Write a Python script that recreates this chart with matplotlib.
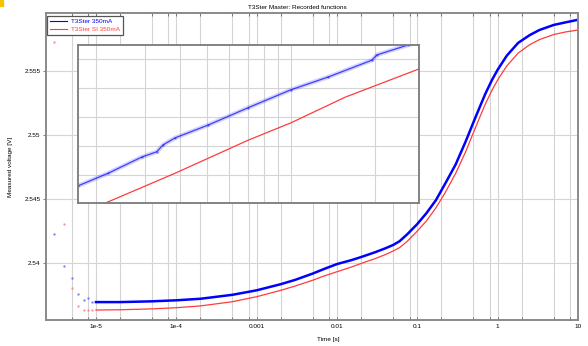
import numpy as np
import matplotlib
matplotlib.use("Agg")
import matplotlib.pyplot as plt
from matplotlib.ticker import LogLocator, NullFormatter, FixedLocator, FixedFormatter
from matplotlib.patches import Rectangle

plt.rcParams['font.family'] = ['Liberation Sans', 'DejaVu Sans']

# main curves
# sparse early samples
blue_early_t = [3.0e-6, 4.0e-6, 5.0e-6, 6.0e-6, 7.1e-6, 8.0e-6, 9.0e-6]
blue_early_v = [2.54227, 2.53977, 2.53883, 2.53758, 2.53711, 2.53727, 2.53695]
red_early_t = [3.0e-6, 4.0e-6, 5.0e-6, 6.0e-6, 7.1e-6, 8.0e-6, 9.0e-6]
red_early_v = [2.55727, 2.54305, 2.53805, 2.53664, 2.53633, 2.53633, 2.53633]

blue_t = [1e-5, 2e-5, 5e-5, 1e-4, 2e-4, 5e-4, 1e-3, 2e-3, 3e-3, 5e-3, 7e-3,
          0.01, 0.015, 0.02, 0.03, 0.04, 0.05, 0.06, 0.075, 0.1, 0.13, 0.17,
          0.22, 0.3, 0.4, 0.5, 0.6, 0.7, 0.85, 1.0, 1.3, 1.8, 2.5, 3.3, 5, 7, 10]
blue_v = [2.53695, 2.53695, 2.53701, 2.53709, 2.53721, 2.53752, 2.53787,
          2.53835, 2.53868, 2.53918, 2.53955, 2.53992, 2.54022, 2.54047,
          2.54085, 2.54115, 2.54141, 2.54170, 2.54225, 2.54305, 2.54390,
          2.54490, 2.54615, 2.54770, 2.54950, 2.55100, 2.55220, 2.55320,
          2.55430, 2.55510, 2.55620, 2.55720, 2.55780, 2.55820, 2.55860,
          2.55880, 2.55900]

red_t = [1e-5, 2e-5, 5e-5, 1e-4, 2e-4, 5e-4, 1e-3, 2e-3, 3e-3, 5e-3, 7e-3,
         0.01, 0.015, 0.02, 0.03, 0.04, 0.05, 0.06, 0.075, 0.1, 0.13, 0.17,
         0.22, 0.3, 0.4, 0.5, 0.6, 0.7, 0.85, 1.0, 1.3, 1.8, 2.5, 3.3, 5, 7, 10]
red_v = [2.53633, 2.53635, 2.53642, 2.53651, 2.53665, 2.53698, 2.53737,
         2.53787, 2.53820, 2.53866, 2.53900, 2.53932, 2.53968, 2.53997,
         2.54035, 2.54066, 2.54094, 2.54120, 2.54170, 2.54250, 2.54330,
         2.54430, 2.54545, 2.54700, 2.54870, 2.55020, 2.55140, 2.55240,
         2.55350, 2.55430, 2.55540, 2.55640, 2.55705, 2.55745, 2.55785,
         2.55805, 2.55820]

# inset (zoomed region)
ins_blue_t = [1.72e-3, 2.21e-3, 2.92e-3, 3.3e-3, 3.48e-3, 3.84e-3, 5.04e-3,
              7.02e-3, 0.01, 0.0136, 0.0195, 0.0203, 0.0262, 0.0288]
ins_blue_v = [2.54931, 2.54953, 2.54981, 2.54990, 2.55002, 2.55014, 2.55036,
              2.55066, 2.55097, 2.55119, 2.55148, 2.55157, 2.55174, 2.55180]
ins_red_t = [2.17e-3, 3.84e-3, 7.02e-3, 0.01, 0.0156, 0.0288]
ins_red_v = [2.54902, 2.54953, 2.5501, 2.5504, 2.55084, 2.55133]

xticks = [1e-5, 1e-4, 1e-3, 1e-2, 0.1, 1, 10]
xticklabels = ["1e-5", "1e-4", "0.001", "0.01", "0.1", "1", "10"]
yticks = [2.54, 2.545, 2.55, 2.555]
yticklabels = ["2.54", "2.545", "2.55", "2.555"]
ins_yticks = [2.5495, 2.55, 2.5505, 2.551, 2.5515]

BLUE = "#0000ff"
RED = "#ff3b3b"
GRID = "#d4d4d4"
FS = 4.6

fig = plt.figure(figsize=(5.88, 3.46), dpi=100)
fig.patches.append(Rectangle((0, 0.982), 0.005, 0.018, transform=fig.transFigure,
                             color="#f5c400", zorder=10))

ax = fig.add_axes([0.0782, 0.0751, 0.9048, 0.8873])
ax.set_xscale("log")
ax.set_xlim(2.39e-6, 10)
ax.set_ylim(2.53555, 2.55953)

ax.plot(blue_early_t, blue_early_v, ".", color="#6a6aff", ms=1.6, alpha=0.7)
ax.plot(red_early_t, red_early_v, ".", color="#ff8080", ms=1.6, alpha=0.7)
ax.plot(blue_t, blue_v, "-", color=BLUE, lw=1.8, label="T3Ster 350mA",
        solid_joinstyle="round")
ax.plot(red_t, red_v, "-", color=RED, lw=0.9, label="T3Ster SI 350mA",
        solid_joinstyle="round")

ax.xaxis.set_major_locator(FixedLocator(xticks))
ax.xaxis.set_major_formatter(FixedFormatter(xticklabels))
ax.xaxis.set_minor_locator(LogLocator(base=10, subs=[2, 5, 8], numticks=20))
ax.xaxis.set_minor_formatter(NullFormatter())
ax.set_yticks(yticks)
ax.set_yticklabels(yticklabels)
ax.grid(True, which="both", axis="x", color=GRID, lw=0.8)
ax.grid(True, which="major", axis="y", color=GRID, lw=0.8)
ax.set_axisbelow(True)

ax.tick_params(axis="x", which="both", direction="in", top=True, length=2.5,
               width=0.6, color="#666", labelsize=FS, pad=3)
ax.tick_params(axis="y", which="both", direction="out", length=2.5, width=0.6,
               color="#666", labelsize=FS, pad=1.5)
sec = ax.secondary_yaxis("right")
sec.set_yticks(yticks)
sec.tick_params(direction="in", length=2.5, width=0.6, color="#666", labelright=False)
sec.spines["right"].set_visible(False)

for s in ax.spines.values():
    s.set_color("#8a8a8a")
    s.set_linewidth(1.4)

ax.set_xlabel("Time [s]", fontsize=FS, labelpad=4)
ax.xaxis.set_label_coords(0.53, -0.055)
ax.set_ylabel("Measured voltage [V]", fontsize=FS, labelpad=8)
fig.text(0.505, 0.986, "T3Ster Master: Recorded functions", fontsize=FS,
         ha="center", va="top")

leg = ax.legend(loc="upper left", bbox_to_anchor=(0.002, 0.99), borderaxespad=0,
                fontsize=FS, fancybox=False, framealpha=1, handlelength=2.6,
                handletextpad=0.7, borderpad=0.45, labelspacing=0.3)
leg.get_frame().set_edgecolor("#555555")
leg.get_frame().set_linewidth(0.9)
for txt, c in zip(leg.get_texts(), [BLUE, RED]):
    txt.set_color(c)
for h in leg.get_lines():
    h.set_linewidth(0.8)

# inset
ins = fig.add_axes([0.1327, 0.4133, 0.58, 0.4566])
ins.set_xscale("log")
ins.set_xlim(1.724e-3, 2.876e-2)
ins.set_ylim(2.549017, 2.551741)
ins.plot(ins_blue_t, ins_blue_v, "-", color="#7070ff", lw=3.2, alpha=0.3)
ins.plot(ins_blue_t, ins_blue_v, ".", color="#5050ff", ms=1.5, alpha=0.6)
ins.plot(ins_blue_t, ins_blue_v, "-", color=BLUE, lw=0.9, alpha=0.7)
ins.plot(ins_red_t, ins_red_v, "-", color=RED, lw=0.9)
ins.xaxis.set_minor_locator(LogLocator(base=10, subs=np.arange(2, 10), numticks=20))
ins.set_yticks(ins_yticks)
ins.grid(True, which="both", axis="x", color=GRID, lw=0.8)
ins.grid(True, which="major", axis="y", color=GRID, lw=0.8)
ins.set_axisbelow(True)
ins.tick_params(which="both", length=0, labelleft=False, labelbottom=False)
ins.xaxis.set_minor_formatter(NullFormatter())
for s in ins.spines.values():
    s.set_color("#7a7a7a")
    s.set_linewidth(1.3)

fig.savefig("out.png", dpi=100)
